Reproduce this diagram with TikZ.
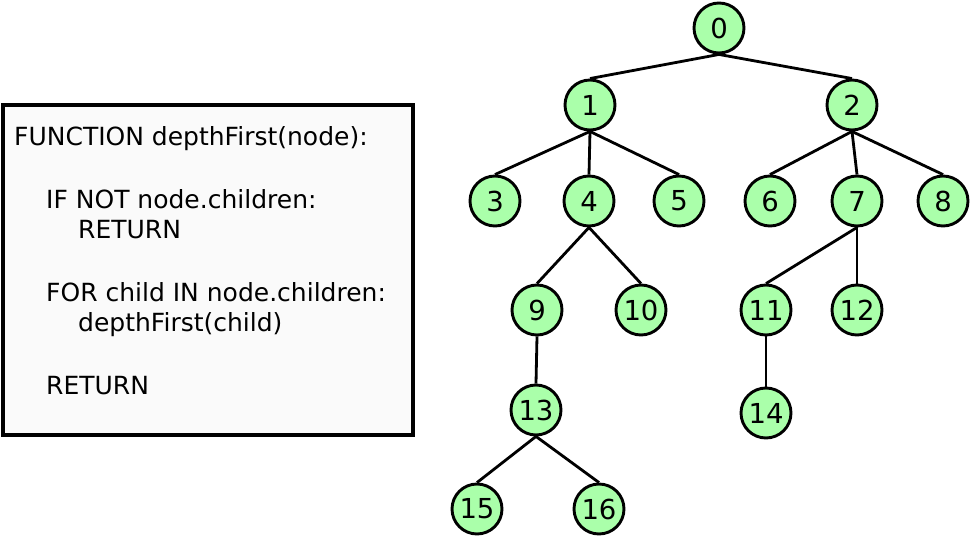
\documentclass[tikz,border=0pt]{standalone}
\usepackage{fontspec}
\setmainfont{DejaVu Sans}
\usetikzlibrary{positioning}
\definecolor{leaf}{HTML}{AAFFAA}
\definecolor{paper}{HTML}{FAFAFA}

\begin{document}
\begin{tikzpicture}[x=1pt,y=-1pt,every node/.style={font=\fontsize{25}{30}\selectfont}]
    \tikzstyle{vert}=[circle,draw,fill=leaf,line width=2.9pt,minimum size=50pt,inner sep=0pt,
                      font=\fontsize{27.5}{32}\selectfont];
    \tikzstyle{code}=[anchor=base west,inner sep=0pt];
    \tikzstyle{edge}=[line width=2.8pt];
    \useasboundingbox (0,0) rectangle (970,537);

    % pseudocode box
    \draw[line width=4pt,fill=paper] (3,105) rectangle (413,435);
    \node[code] (l1) at (14,146)  {FUNCTION depthFirst(node):};
    \node[code] (l2) at (46,209)  {IF NOT node.children:};
    \node[code] (l3) at (78,239)  {RETURN};
    \node[code] (l4) at (46,302)  {FOR child IN node.children:};
    \node[code] (l5) at (78,332)  {depthFirst(child)};
    \node[code] (l6) at (46,395)  {RETURN};

    % tree
    \node[vert] (n0)  at (719,28)  {0};
    \node[vert] (n1)  at (590,105) {1};
    \node[vert] (n2)  at (852,105) {2};
    \node[vert] (n3)  at (495,201) {3};
    \node[vert] (n4)  at (589,201) {4};
    \node[vert] (n5)  at (679,201) {5};
    \node[vert] (n6)  at (770,201) {6};
    \node[vert] (n7)  at (857,201) {7};
    \node[vert] (n8)  at (943,201) {8};
    \node[vert] (n9)  at (537,310) {9};
    \node[vert] (n10) at (641,310) {10};
    \node[vert] (n11) at (766,310) {11};
    \node[vert] (n12) at (857,310) {12};
    \node[vert] (n13) at (536,410) {13};
    \node[vert] (n14) at (766,413) {14};
    \node[vert] (n15) at (477,509) {15};
    \node[vert] (n16) at (599,509) {16};

    \foreach \a/\b in {0/1,0/2,1/3,1/4,1/5,2/6,2/7,2/8,4/9,4/10,7/11,7/12,9/13,11/14,13/15,13/16}
        \draw[edge] (n\a.south) -- (n\b.north);
  \end{tikzpicture}
\end{document}
